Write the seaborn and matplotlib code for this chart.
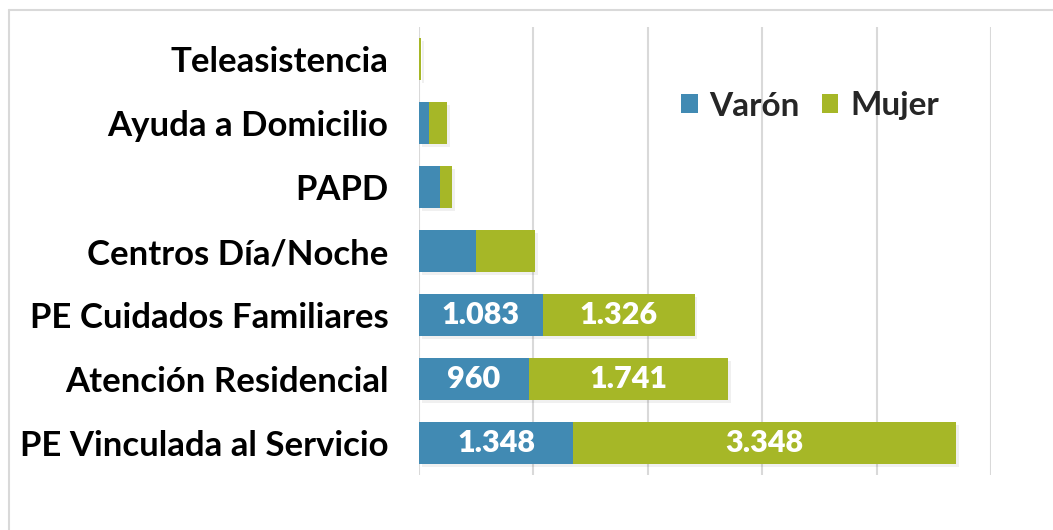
import matplotlib
matplotlib.use("Agg")
import matplotlib.pyplot as plt
import matplotlib.patheffects as pe
from matplotlib.lines import Line2D
from matplotlib.patches import Patch
import seaborn as sns
import pandas as pd

categories = ["Teleasistencia", "Ayuda a Domicilio", "PAPD", "Centros Día/Noche",
              "PE Cuidados Familiares", "Atención Residencial", "PE Vinculada al Servicio"]
varon = [3, 85, 181, 496, 1083, 960, 1348]
mujer = [17, 160, 111, 516, 1326, 1741, 3348]
labelled = [False, False, False, False, True, True, True]
series_names = ["Varón", "Mujer"]

BLUE = "#418AB3"
GREEN = "#A6B727"

sns.set_theme(style="white")
plt.rcParams['font.family'] = ['Lato', 'DejaVu Sans']

df = pd.DataFrame({"cat": categories, "varon": varon, "mujer": mujer})
df["total"] = df["varon"] + df["mujer"]

fig = plt.figure(figsize=(10.53, 5.30), dpi=100)
ax = fig.add_axes([419/1053, 55/530, (991-419)/1053, (475-27)/530])

sns.barplot(data=df, y="cat", x="total", color=GREEN, saturation=1, width=0.66,
            orient="h", ax=ax, zorder=3)
n_green = len(ax.patches)
sns.barplot(data=df, y="cat", x="varon", color=BLUE, saturation=1, width=0.66,
            orient="h", ax=ax, zorder=4)
for i, p in enumerate(ax.patches):
    p.set_linewidth(0)
    if i < n_green:
        p.set_path_effects([pe.SimplePatchShadow(offset=(2, -2), shadow_rgbFace="#000000", alpha=0.06),
                            pe.Normal()])

ax.set_xlim(0, 5000)
ax.set_ylim(6.5, -0.5)
ax.set_xticks([0, 1000, 2000, 3000, 4000, 5000])
ax.set_xticklabels([])
ax.tick_params(axis="x", length=0)
ax.tick_params(axis="y", length=0, pad=22)
ax.xaxis.grid(True, color="#D9D9D9", linewidth=1.5, zorder=0)
ax.set_axisbelow(True)
for s in ax.spines.values():
    s.set_visible(False)
ax.set_xlabel("")
ax.set_ylabel("")
for lab in ax.get_yticklabels():
    lab.set_fontsize(25)
    lab.set_fontweight("bold")
    lab.set_color("black")

def fmt(v):
    return f"{v:,}".replace(",", ".")

for i, (v, m, show) in enumerate(zip(varon, mujer, labelled)):
    if show:
        ax.text(v / 2, i, fmt(v), ha="center", va="center", color="white",
                fontsize=22, fontweight="heavy", zorder=6)
        ax.text(v + m / 2, i, fmt(m), ha="center", va="center", color="white",
                fontsize=22, fontweight="heavy", zorder=6)

handles = [Patch(facecolor=BLUE, edgecolor="none"), Patch(facecolor=GREEN, edgecolor="none")]
leg = ax.legend(handles, series_names, loc="center", bbox_to_anchor=(810/1053, 1 - 106/530),
                bbox_transform=fig.transFigure, ncol=2, frameon=False,
                prop={"size": 24, "weight": "bold"}, handlelength=0.5, handleheight=0.5,
                handletextpad=0.35, columnspacing=0.65)

# outer chart border (cropped)
fig.add_artist(Line2D([9/1053, 1], [1 - 10/530, 1 - 10/530], color="#D9D9D9", lw=1.5,
                      transform=fig.transFigure))
fig.add_artist(Line2D([9/1053, 9/1053], [0, 1 - 10/530], color="#D9D9D9", lw=1.5,
                      transform=fig.transFigure))

fig.savefig("out.png", dpi=100, facecolor="white")
